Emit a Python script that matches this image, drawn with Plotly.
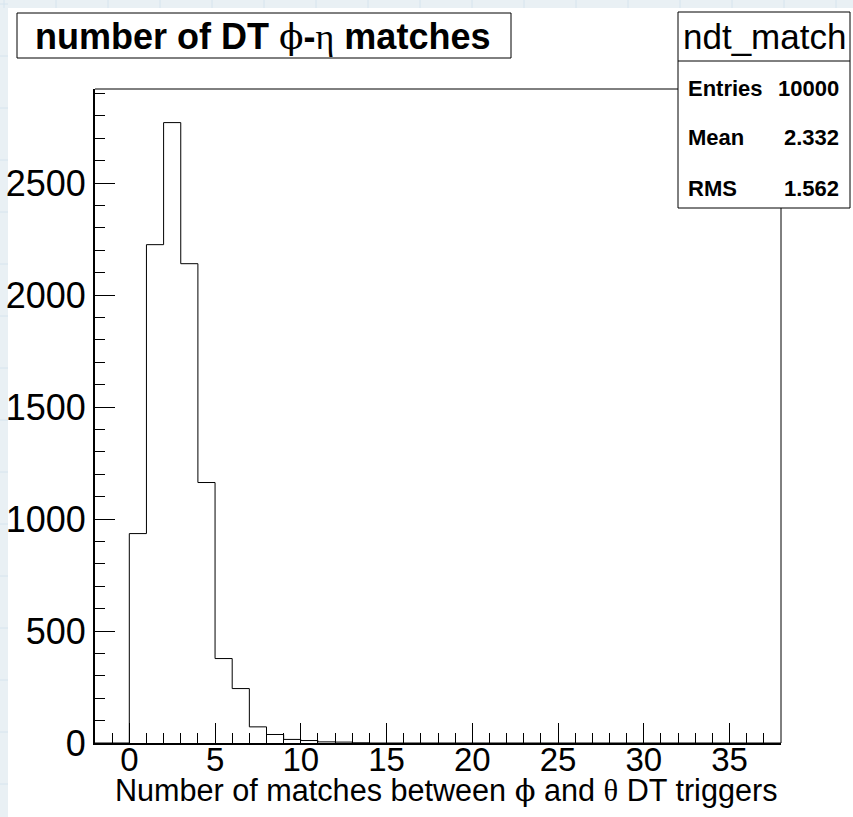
import plotly.graph_objects as go

# Histogram: 40 unit-width bins from -2 to 38; filled bins start at 0
x_min, x_max = -2, 38
first_filled = 0
counts_filled = [935, 2225, 2770, 2140, 1163, 377, 243, 72, 38, 16, 11, 5, 4, 1]

y_ticks = [0, 500, 1000, 1500, 2000, 2500]
x_ticks = [0, 5, 10, 15, 20, 25, 30, 35]

hist_name = "ndt_match"
stat_labels = ["Entries", "Mean", "RMS"]
stat_values = ["10000", "2.332", "1.562"]

title_text = ("number of DT <span style=\"font-family:'DejaVu Serif';font-weight:normal\">ϕ</span>"
              "-<span style=\"font-family:'Liberation Serif';font-weight:normal\">η</span> matches")
x_title = ("Number of matches between <span style=\"font-family:'DejaVu Serif'\">ϕ</span> and "
           "<span style=\"font-family:'Liberation Serif'\">θ</span> DT triggers")

# full bin contents
n_bins = x_max - x_min
counts = [0] * n_bins
for i, c in enumerate(counts_filled):
    counts[first_filled - x_min + i] = c
edges = list(range(x_min, x_max + 1))
step_y = counts + [counts[-1]]

W, H = 853, 817
L, R, T, B = 95, 781, 89, 743
PW, PH = R - L, B - T


def px(xp):
    return (xp - L) / PW


def py(yp):
    return (B - yp) / PH


FONT = "Liberation Sans, Arial, Helvetica, sans-serif"

fig = go.Figure()
fig.add_trace(go.Scatter(
    x=edges, y=step_y, mode="lines", line=dict(color="black", width=1, shape="hv"),
    hoverinfo="skip", showlegend=False,
))

shapes = []
# canvas border strip with faint grid
shapes.append(dict(type="rect", xref="paper", yref="paper", x0=px(0), x1=px(W), y0=py(H), y1=py(0),
                   fillcolor="#e9f0f4", line=dict(width=0), layer="below"))
for k in range(0, W, 52):
    shapes.append(dict(type="line", xref="paper", yref="paper", x0=px(k + 4), x1=px(k + 4),
                       y0=py(0), y1=py(8), line=dict(color="#d6e4ee", width=1), layer="below"))
for k in range(0, H, 52):
    shapes.append(dict(type="line", xref="paper", yref="paper", x0=px(0), x1=px(8),
                       y0=py(k + 4), y1=py(k + 4), line=dict(color="#d6e4ee", width=1), layer="below"))
shapes.append(dict(type="rect", xref="paper", yref="paper", x0=px(8), x1=px(W + 2), y0=py(H + 2), y1=py(8),
                   fillcolor="white", line=dict(width=0), layer="below"))
# frame top and right
shapes.append(dict(type="line", xref="paper", yref="paper", x0=0, x1=1, y0=1, y1=1,
                   line=dict(color="black", width=1)))
shapes.append(dict(type="line", xref="paper", yref="paper", x0=1, x1=1, y0=0, y1=1,
                   line=dict(color="black", width=1)))
# title box
shapes.append(dict(type="rect", xref="paper", yref="paper", x0=px(17), x1=px(511), y0=py(58), y1=py(13),
                   fillcolor="white", line=dict(color="black", width=1)))
# stats box
shapes.append(dict(type="rect", xref="paper", yref="paper", x0=px(678), x1=px(850), y0=py(208), y1=py(12),
                   fillcolor="white", line=dict(color="black", width=1)))
shapes.append(dict(type="line", xref="paper", yref="paper", x0=px(678), x1=px(850), y0=py(61), y1=py(61),
                   line=dict(color="black", width=1)))

annotations = []
annotations.append(dict(text="<b>" + title_text + "</b>", xref="paper", yref="paper",
                        x=px(262), y=py(37), xanchor="center", yanchor="middle", showarrow=False,
                        font=dict(family=FONT, size=36, color="black")))
annotations.append(dict(text=hist_name, xref="paper", yref="paper", x=px(764), y=py(36),
                        xanchor="center", yanchor="middle", showarrow=False,
                        font=dict(family=FONT, size=35, color="black")))
for i, (lab, val) in enumerate(zip(stat_labels, stat_values)):
    yc = 88 + 50 * i
    annotations.append(dict(text="<b>" + lab + "</b>", xref="paper", yref="paper", x=px(686), y=py(yc),
                            xanchor="left", yanchor="middle", showarrow=False,
                            font=dict(family=FONT, size=22, color="black")))
    annotations.append(dict(text="<b>" + val + "</b>", xref="paper", yref="paper", x=px(841), y=py(yc),
                            xanchor="right", yanchor="middle", showarrow=False,
                            font=dict(family=FONT, size=22, color="black")))
annotations.append(dict(text=x_title, xref="paper", yref="paper", x=px(779), y=py(790),
                        xanchor="right", yanchor="middle", showarrow=False,
                        font=dict(family=FONT, size=30.6, color="black")))

fig.update_layout(
    width=W, height=H,
    margin=dict(l=L, r=W - R, t=T, b=H - B, pad=0),
    paper_bgcolor="white", plot_bgcolor="white",
    shapes=shapes, annotations=annotations,
    xaxis=dict(range=[x_min, x_max], tickvals=x_ticks, ticks="inside", ticklen=20, tickwidth=1,
               tickcolor="black", showline=True, linewidth=2, linecolor="black",
               showgrid=False, zeroline=False, ticklabelstandoff=-14, automargin=False,
               minor=dict(dtick=1, tick0=0, ticks="inside", ticklen=10, tickwidth=1, tickcolor="black",
                          showgrid=False),
               tickfont=dict(family=FONT, size=33, color="black")),
    yaxis=dict(range=[0, 2920], tickvals=y_ticks, ticks="inside", ticklen=20, tickwidth=1,
               tickcolor="black", showline=True, linewidth=2, linecolor="black",
               showgrid=False, zeroline=False, automargin=False,
               minor=dict(dtick=100, tick0=0, ticks="inside", ticklen=10, tickwidth=1, tickcolor="black",
                          showgrid=False),
               tickfont=dict(family=FONT, size=36, color="black")),
)

fig.write_html("out.html")
